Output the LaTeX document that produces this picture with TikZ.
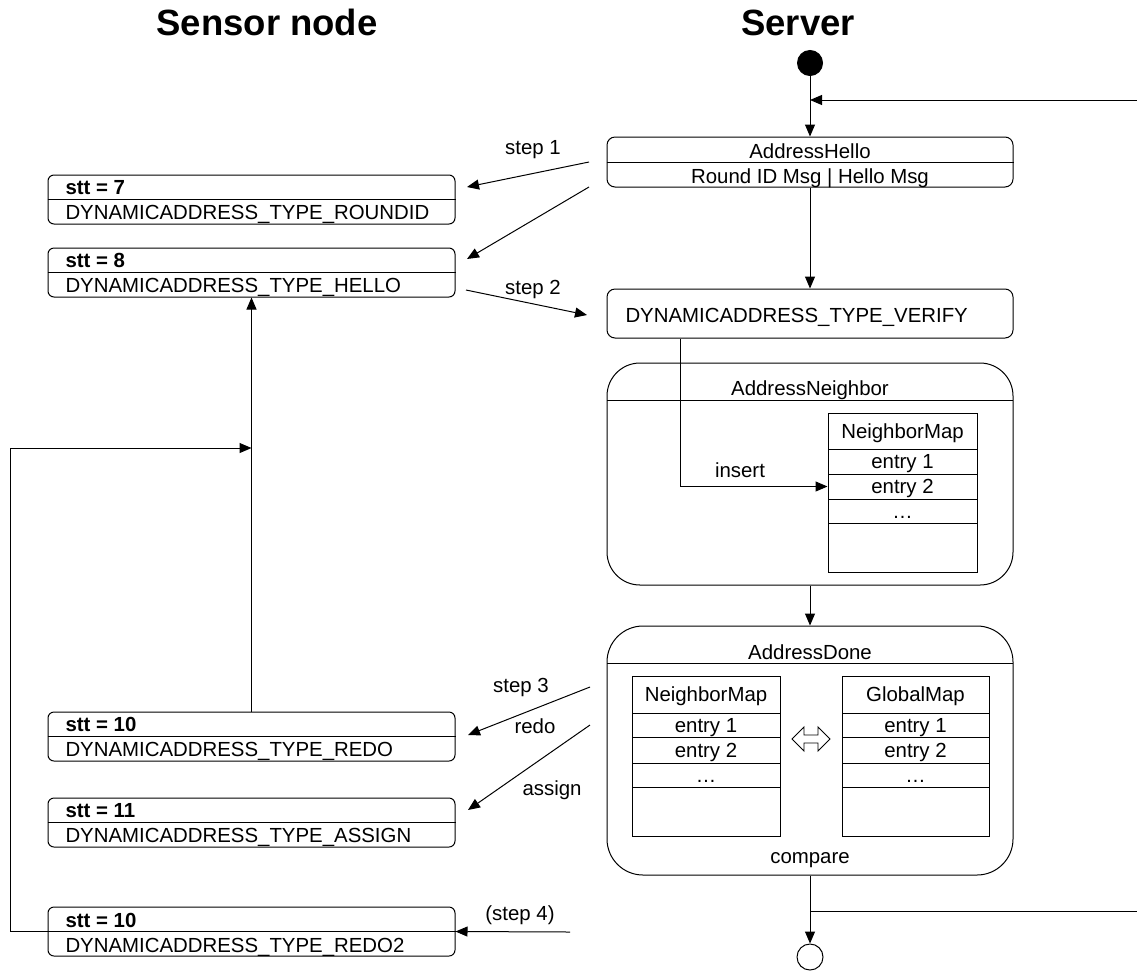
\documentclass[tikz,border=0pt]{standalone}
\usepackage{fontspec}
\setmainfont{Liberation Sans}
\usetikzlibrary{arrows.meta,calc}
\begin{document}
\begin{tikzpicture}[x=1pt,y=-1pt,line width=1pt,
  font=\fontsize{20.4}{24}\selectfont,
  arr/.style={-{Triangle[length=12pt,width=10pt]}},
  sbox/.style={draw,rounded corners=6pt,minimum width=407pt,minimum height=49pt,inner sep=0pt},
  vbox/.style={draw,rounded corners=8pt,minimum width=406pt,inner sep=0pt},
  bigbox/.style={draw,minimum width=406pt,inner sep=0pt},
  row/.style={draw,inner sep=0pt,text height=14pt,text depth=0pt},
  txt/.style={inner sep=0pt,text height=14pt,text depth=0pt},
  bld/.style={anchor=base west,inner sep=0pt,font=\fontsize{20.4}{24}\selectfont\bfseries},
  pln/.style={anchor=base west,inner sep=0pt},
  ttl/.style={inner sep=0pt,font=\fontsize{36.5}{40}\selectfont\bfseries,anchor=base}]
\useasboundingbox (0,0) rectangle (1137,970);

% titles
\node[ttl] (tsensor) at (267,35) {Sensor node};
\node[ttl] (tserver) at (798,35) {Server};

% start / end
\node[circle,fill=black,draw,minimum size=25pt,inner sep=0pt] (start) at (810,63) {};
\node[circle,draw,minimum size=26pt,inner sep=0pt] (end) at (810,957) {};

% server boxes
\node[vbox,minimum height=50pt] (hello) at (810,162) {};
\draw (hello.west) -- (hello.east);
\node[txt] (hellot) at (810,151) {AddressHello};
\node[txt] (hellom) at (810,176) {Round ID Msg | Hello Msg};

\node[vbox,minimum height=49pt] (verify) at (810,313.5) {};
\node[txt,anchor=west] (verifyt) at (625,315) {DYNAMICADDRESS\_TYPE\_VERIFY};

\node[bigbox,rounded corners=33pt,minimum height=222pt] (an) at (810,474) {};
\draw (607,400) -- (1013,400);
\node[txt] (ant) at (810,388) {AddressNeighbor};

\node[row,minimum width=149pt,minimum height=36pt] (nmh) at (902.5,431) {NeighborMap};
\node[row,minimum width=149pt,minimum height=25pt] (nme1) at (902.5,461.5) {entry 1};
\node[row,minimum width=149pt,minimum height=25pt] (nme2) at (902.5,486.5) {entry 2};
\node[row,minimum width=149pt,minimum height=24pt] (nme3) at (902.5,511) {\dots};
\node[row,minimum width=149pt,minimum height=49pt] (nme4) at (902.5,547.5) {};

\node[bigbox,rounded corners=36pt,minimum height=249pt] (ad) at (810,750.5) {};
\draw (607,663) -- (1013,663);
\node[txt] (adt) at (810,652) {AddressDone};
\node[txt] (adc) at (810,856) {compare};

\node[row,minimum width=148pt,minimum height=37pt] (lmh) at (706,694.5) {NeighborMap};
\node[row,minimum width=148pt,minimum height=24pt] (lme1) at (706,725) {entry 1};
\node[row,minimum width=148pt,minimum height=26pt] (lme2) at (706,750) {entry 2};
\node[row,minimum width=148pt,minimum height=24pt] (lme3) at (706,775) {\dots};
\node[row,minimum width=148pt,minimum height=49pt] (lme4) at (706,811.5) {};

\node[row,minimum width=147pt,minimum height=37pt] (gmh) at (915.5,694.5) {GlobalMap};
\node[row,minimum width=147pt,minimum height=24pt] (gme1) at (915.5,725) {entry 1};
\node[row,minimum width=147pt,minimum height=26pt] (gme2) at (915.5,750) {entry 2};
\node[row,minimum width=147pt,minimum height=24pt] (gme3) at (915.5,775) {\dots};
\node[row,minimum width=147pt,minimum height=49pt] (gme4) at (915.5,811.5) {};

% double arrow
\draw[line width=0.9pt] (792,739) -- (804,727) -- (804,735) -- (818,735) -- (818,727) -- (830,739)
  -- (818,751) -- (818,743) -- (804,743) -- (804,751) -- cycle;

% sensor boxes
\node[sbox] (s7) at (251.5,199.5) {};
\node[sbox] (s8) at (251.5,272.5) {};
\node[sbox] (s10) at (251.5,736.5) {};
\node[sbox] (s11) at (251.5,822.5) {};
\node[sbox] (s10b) at (251.5,931.5) {};
\foreach \n in {s7,s8,s10,s11,s10b} \draw (\n.west) -- (\n.east);

\node[bld] (s7a) at (65,194) {stt = 7};
\node[pln] (s7b) at (65,219) {DYNAMICADDRESS\_TYPE\_ROUNDID};
\node[bld] (s8a) at (65,267) {stt = 8};
\node[pln] (s8b) at (65,292) {DYNAMICADDRESS\_TYPE\_HELLO};
\node[bld] (s10a) at (65,731) {stt = 10};
\node[pln] (s10t) at (65,756) {DYNAMICADDRESS\_TYPE\_REDO};
\node[bld] (s11a) at (65,817) {stt = 11};
\node[pln] (s11t) at (65,842) {DYNAMICADDRESS\_TYPE\_ASSIGN};
\node[bld] (s10ba) at (65,927) {stt = 10};
\node[pln] (s10bt) at (65,952) {DYNAMICADDRESS\_TYPE\_REDO2};

% labels
\node[anchor=base,inner sep=0pt] (l1) at (533,154) {step 1};
\node[anchor=base,inner sep=0pt] (l2) at (533,294) {step 2};
\node[anchor=base,inner sep=0pt] (l3) at (521,692) {step 3};
\node[anchor=base,inner sep=0pt] (l3r) at (535,733) {redo};
\node[anchor=base,inner sep=0pt] (l3a) at (552,795) {assign};
\node[anchor=base,inner sep=0pt] (l4) at (520,920) {(step 4)};
\node[anchor=base,inner sep=0pt] (lins) at (740,477) {insert};

% free ends
\coordinate (inR) at (1137,100);
\coordinate (outR) at (1137,911);
\coordinate (a1s) at (589,162); \coordinate (a1e) at (467,187);
\coordinate (a2s) at (589,187); \coordinate (a2e) at (467,259);
\coordinate (a3s) at (466,290); \coordinate (a3e) at (587,315);
\coordinate (a4s) at (590,687); \coordinate (a4e) at (468,735);
\coordinate (a5s) at (590,725); \coordinate (a5e) at (468,810);
\coordinate (a6s) at (570,932);
\coordinate (jn) at (251.5,448);

% connectors
\draw[arr] (start) -- (hello.north);
\draw[arr] (inR) -- (inR -| hello.north);
\draw[arr] (hello.south) -- (verify.north);
\draw[arr] ($(verify.south west)+(74,0)$) |- (nme2.west);
\draw[arr] (an.south) -- (ad.north);
\draw[arr] (ad.south) -- (end.north);
\draw (outR -| ad.south) -- (outR);

\draw[arr] (a1s) -- (a1e);
\draw[arr] (a2s) -- (a2e);
\draw[arr] (a3s) -- (a3e);
\draw[arr] (a4s) -- (a4e);
\draw[arr] (a5s) -- (a5e);
\draw[arr] (a6s) -- (s10b.east);

\draw[arr] (s10.north) -- (s8.south);
\draw[arr] (s10b.west) -- ++(-37,0) |- (jn);
\end{tikzpicture}
\end{document}
